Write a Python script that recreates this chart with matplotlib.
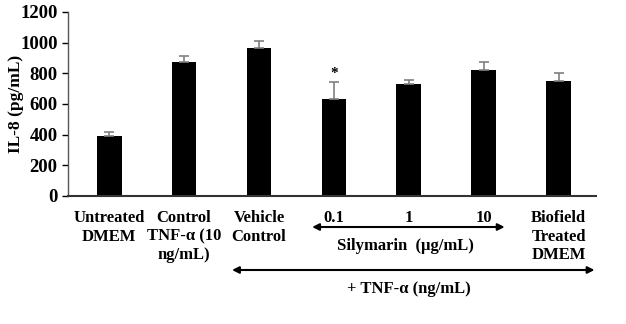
import matplotlib
matplotlib.use("Agg")
import matplotlib.pyplot as plt

categories = ["Untreated\nDMEM", "Control\nTNF-\u03b1 (10\nng/mL)", "Vehicle\nControl",
              "0.1", "1", "10", "Biofield\nTreated\nDMEM"]
values = [393, 872, 967, 633, 730, 822, 752]
errors = [27, 39, 42, 112, 27, 50, 48]
yticks = [0, 200, 400, 600, 800, 1000, 1200]
ylabel = "IL-8 (pg/mL)"
star_index = 3
silymarin_label = "Silymarin  (\u03bcg/mL)"
tnf_label = "+ TNF-\u03b1 (ng/mL)"

plt.rcParams["font.family"] = ["Liberation Serif", "DejaVu Serif"]
plt.rcParams["font.weight"] = "bold"

fig = plt.figure(figsize=(6.26, 3.24), dpi=100)
ax = fig.add_axes([68/626, 128/324, (596-68)/626, 184/324])

x = list(range(len(values)))
ax.bar(x, values, width=0.33, color="black", zorder=2)
ax.errorbar(x, values, yerr=[[0]*len(errors), errors], fmt="none",
            ecolor="#808080", elinewidth=1.2, capsize=3.5, capthick=1.2, zorder=3)

ax.text(star_index, values[star_index] + errors[star_index] + 12, "*",
        ha="center", va="bottom", fontsize=11, fontweight="bold")

ax.set_ylim(0, 1200)
ax.set_yticks(yticks)
ax.set_xlim(-0.55, 6.5)
ax.set_xticks(x)
ax.set_xticklabels(categories, fontsize=12, fontweight="bold", linespacing=1.22, va="top")
ax.tick_params(axis="x", length=0, pad=10)
ax.tick_params(axis="y", labelsize=13.5, length=4, width=1, direction="out")
for lab in ax.get_yticklabels():
    lab.set_fontweight("bold")
ax.set_ylabel(ylabel, fontsize=12.5, fontweight="bold", labelpad=-3)

for s in ["top", "right"]:
    ax.spines[s].set_visible(False)
ax.spines["left"].set_color("#555555")
ax.spines["bottom"].set_color("#333333")
ax.spines["left"].set_linewidth(1.0)
ax.spines["bottom"].set_linewidth(1.5)

tr = ax.get_xaxis_transform()
# Silymarin arrow
ax.annotate("", xy=(2.71, -31/184), xytext=(5.28, -31/184), xycoords=tr, textcoords=tr,
            arrowprops=dict(arrowstyle="<|-|>", color="black", lw=1.5,
                            mutation_scale=10, shrinkA=0, shrinkB=0),
            annotation_clip=False)
ax.text(3.95, -50/184, silymarin_label, transform=tr, ha="center", va="center",
        fontsize=12, fontweight="bold")
# TNF arrow
ax.annotate("", xy=(1.64, -74/184), xytext=(6.48, -74/184), xycoords=tr, textcoords=tr,
            arrowprops=dict(arrowstyle="<|-|>", color="black", lw=1.5,
                            mutation_scale=10, shrinkA=0, shrinkB=0),
            annotation_clip=False)
ax.text(4.0, -93/184, tnf_label, transform=tr, ha="center", va="center",
        fontsize=12, fontweight="bold")

fig.savefig("out.png", dpi=100)
